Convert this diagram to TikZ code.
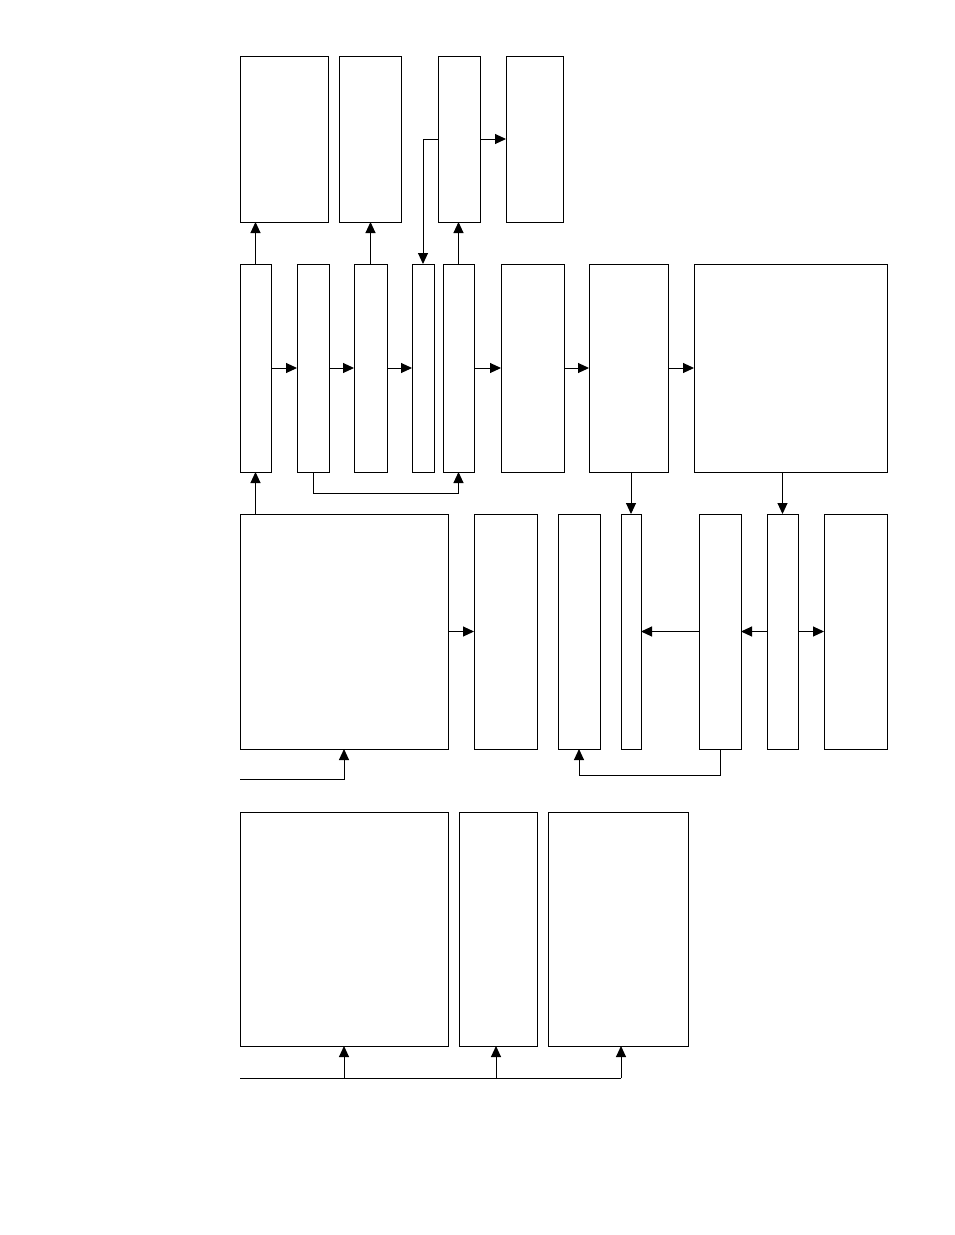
\documentclass[tikz,border=0pt]{standalone}
\usepackage{tikz}
\usetikzlibrary{arrows.meta}
\usetikzlibrary{positioning}
\tikzset{
    block/.style={
           rectangle,
           draw=black, line width=1pt,
           inner sep=0pt,
           outer sep=0pt,
           anchor=north west,
           },
}

\begin{document}
\begin{tikzpicture}[x=1pt, y=-1pt, line width=1pt, >={Triangle[length=11pt,width=10pt]}]

 % page frame of the reference
 \useasboundingbox (0,0) rectangle (954,1235);

 % Top row
 \node[block, minimum width=88pt, minimum height=166pt] (T1) at (240,56) {};
 \node[block, minimum width=62pt, minimum height=166pt] (T2) at (339,56) {};
 \node[block, minimum width=42pt, minimum height=166pt] (T3) at (438,56) {};
 \node[block, minimum width=57pt, minimum height=166pt] (T4) at (506,56) {};

 % Middle row: the chain of blocks
 \node[block, minimum width=31pt, minimum height=208pt] (M1) at (240,264) {};
 \node[block, minimum width=32pt, minimum height=208pt] (M2) at (297,264) {};
 \node[block, minimum width=33pt, minimum height=208pt] (M3) at (354,264) {};
 \node[block, minimum width=22pt, minimum height=208pt] (M4) at (412,264) {};
 \node[block, minimum width=31pt, minimum height=208pt] (M5) at (443,264) {};
 \node[block, minimum width=63pt, minimum height=208pt] (M6) at (501,264) {};
 \node[block, minimum width=79pt, minimum height=208pt] (M7) at (589,264) {};
 \node[block, minimum width=193pt, minimum height=208pt] (M8) at (694,264) {};

 % Lower row
 \node[block, minimum width=208pt, minimum height=235pt] (L1) at (240,514) {};
 \node[block, minimum width=63pt, minimum height=235pt] (L2) at (474,514) {};
 \node[block, minimum width=42pt, minimum height=235pt] (L3) at (558,514) {};
 \node[block, minimum width=20pt, minimum height=235pt] (L4) at (621,514) {};
 \node[block, minimum width=42pt, minimum height=235pt] (L5) at (699,514) {};
 \node[block, minimum width=31pt, minimum height=235pt] (L6) at (767,514) {};
 \node[block, minimum width=63pt, minimum height=235pt] (L7) at (824,514) {};

 % Bottom row
 \node[block, minimum width=208pt, minimum height=234pt] (B1) at (240,812) {};
 \node[block, minimum width=78pt, minimum height=234pt] (B2) at (459,812) {};
 \node[block, minimum width=140pt, minimum height=234pt] (B3) at (548,812) {};

 % free ends of the inputs
 \coordinate (IN1) at (240,779);
 \coordinate (IN2) at (240,1078);
 \coordinate (J2) at (496,1078);
 \coordinate (J3) at (621,1078);

 % straight arrows along the rows
 \path[->]
	 (M1) edge (M2)
	 (M2) edge (M3)
	 (M3) edge (M4)
	 (M5) edge (M6)
	 (M6) edge (M7)
	 (M7) edge (M8)
	 (T3) edge (T4)
	 (L1) edge (L2)
	 (L5) edge (L4)
	 (L6) edge (L5)
	 (L6) edge (L7);

 % vertical arrows between the rows
 \draw[->] (M1.north) -- (M1.north |- T1.south);
 \draw[->] (M3.north) -- (M3.north |- T2.south);
 \draw[->] (M5.north) -- (M5.north |- T3.south);
 \draw[->] (T3.west) -| (M4.north);
 \draw[->] (L1.north -| M1.south) -- (M1.south);
 \draw[->] (M7.south -| L4.north) -- (L4.north);
 \draw[->] (M8.south -| L6.north) -- (L6.north);

 % loops under the rows
 \draw[->] (M2.south) -- ++(0,21) -| (M5.south);
 \draw[->] (L5.south) -- ++(0,26) -| (L3.south);

 % inputs
 \draw[->] (IN1) -| (L1.south);
 \draw (IN2) -- (J3);
 \draw[->] (IN2 -| B1.south) -- (B1.south);
 \draw[->] (J2) -- (J2 |- B2.south);
 \draw[->] (J3) -- (J3 |- B3.south);
\end{tikzpicture}
\end{document}
